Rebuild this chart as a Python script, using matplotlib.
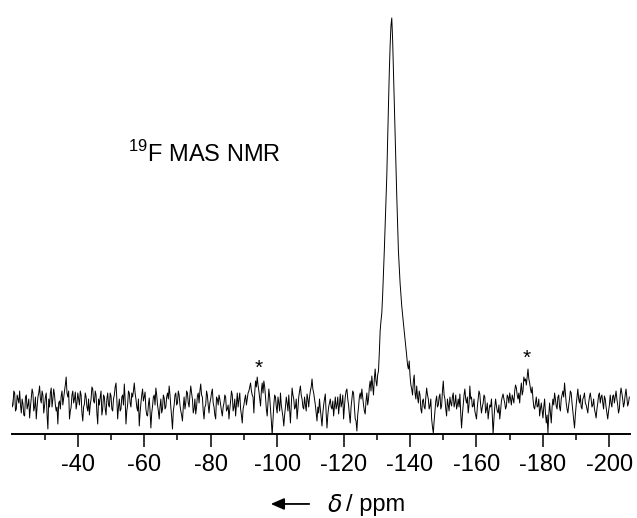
import numpy as np
import matplotlib
matplotlib.use("Agg")
import matplotlib.pyplot as plt
from matplotlib.ticker import FixedLocator

plt.rcParams['font.family'] = ['Liberation Sans', 'DejaVu Sans']
plt.rcParams['axes.unicode_minus'] = False
plt.rcParams['mathtext.fontset'] = 'custom'
plt.rcParams['mathtext.rm'] = 'Liberation Sans'

# Chemical shift grid (ppm): main points every 0.5 ppm, mid points halfway
shift_start = -20.0
shift_step = -0.5

# Spectrum intensity (arbitrary units), main points
intensity_a = [5, -4, 8, -8, 2, 10, -12, -3, -15, 6, -4, -17, 3, 8, -6, -18, 4, 15, -2, 6,
               -5, 8, -28, -6, 13, 2, 6, -10, -23, 0, 5, -4, 10, 24, 4, -18, -6, 10, 2, -8,
               8, -4, 6, -20, -3, 4, -10, -14, 2, 12, -2, 6, -23, -4, 10, -8, 4, -14, 8, -6,
               5, -10]
intensity_b = [6, 18, -18, 2, -8, 6, 17, -23, -4, 8, -6, 4, 18, 2, -10, -25, -2, 12, 4, -8,
               -15, 3, -27, -5, 6, 13, -4, -18, 2, -8, 3, -6, 8, 15, -6, -28, -4, 8, -2, 6,
               -10, -20, 4, -2, 8, -6, 15, 2, -8, -13, 5, -2, 17, 4, -18, -4, 6, -12, 2, 12,
               -6, -18]
intensity_c = [2, 6, -4, -15, -2, 4, -8, -18, 0, 6, -6, -15, 8, 2, -8, -22, -4, 6, 2, 10,
               18, 6, -12, 20, 24, 10, -5, 18, 20, 4, -15, 12, -8, -34, -4, 4, -12, -2, 8, -10,
               -25, -6, -2, 6, -22, 13, 2, -6, -18, 4, 15, 2, -8, -4, 7, -6, 10, 22, 8, -4,
               -20, -12]
intensity_d = [-8, -25, -4, 7, -27, -6, 2, -8, -15, 4, -4, -13, 7, -2, -18, 4, 12, -4, -22, 2,
               8, -18, -30, -6, 8, 12, -4, -13, 8, 2, 20, 25, 6, 32, 15, 30, 70, 88, 128, 175,
               225, 295, 355, 383, 330, 262, 205, 150, 118, 95, 78, 62, 45, 32, 25, 12, 20, 8,
               15, -2, 6, -12]
intensity_e = [2, -8, 13, 2, -5, -18, -32, -10, 5, -4, 7, -5, 20, 2, -15, -4, 4, -5, 8, -2,
               -8, 2, 7, -27, -4, 12, -2, -12, 15, 4, -5, -10, -18, 2, 7, -12, -2, 4, -8, -18,
               -4, 2, -33, -6, -5, -12, -18, 0, 7, -2, -5, 4, 8, -4, 2, 10, 13, 2, -2, 18,
               10, 20]
intensity_f = [16, 32, 18, 8, 2, -8, 4, -5, -15, -2, -17, 2, -22, -32, -2, -22, 2, 8, -5, 4,
               -6, 2, 10, 18, -2, -12, 2, 8, -10, -27, -4, 12, -2, -6, 2, 8, -4, -12, 4, 2,
               -4, -8, -17, -2, 8, 4, -2, 5, -6, -18, -4, -2, 5, -2, 10, -4, -8, 13, 2, -2,
               12, -5, 4]

# Intensity at the half-step points (between consecutive main points)
mid_a = [-6, 10, -10, 6, -2, -4, 2, -14, 4, -8, 2, -6, 12, -10, 4, -6, 8, 2, 10, -12,
         4, -14, 2, 8, -6, 12, -4, -6, -2, -8, 10, 3, 16, 8, 10, -10, 6, -2, 9, -2,
         2, 10, -12, -6, 8, -6, 2, -4, 14, 0, 10, -12, 2, 4, -14, 6, -8, 2, -4, 8,
         -8, 2]
mid_b = [14, 2, -6, -10, 4, -4, 2, -10, 10, -2, 8, 10, 8, -6, 2, -12, 6, 0, 9, -14,
         -4, -10, -12, 4, -4, 6, -10, -6, -12, 6, -8, 4, 2, 6, -16, -10, 6, -4, 10, -4,
         -14, -6, -8, 10, -2, 6, 8, -12, 2, -6, 8, 10, 6, -10, -6, 10, -4, -2, 8, -2,
         -14, 4]
mid_c = [-4, 2, -10, -6, 6, -10, -4, -8, 10, -10, 2, -4, -6, 8, -14, -8, 2, -4, 8, 14,
         10, 4, 8, 14, 16, 2, 10, 8, 14, -8, -2, 4, -20, -18, 6, -6, 4, -10, -4, -16,
         -14, 4, -10, -8, -4, 6, -8, 2, -8, 10, 6, -6, 4, -10, 2, 4, 14, 12, 2, -12,
         -6, 2]
mid_d = [-16, -12, 2, -12, -14, -2, -6, 0, -6, -8, 4, -4, -6, 6, -6, 10, 2, -14, -6, 10,
         -6, -20, -14, 4, 2, 4, -10, 0, -4, 14, 10, 16, 22, 20, 26, 48, 80, 106, 150, 200,
         262, 328, 375, 362, 296, 232, 176, 133, 106, 86, 70, 54, 36, 40, 16, 6, 26, 2, 4, 10,
         -8, 0]
mid_e = [-6, 4, 6, -8, 2, -26, -20, 0, -6, 4, -8, 10, 6, -8, 2, -10, -2, 4, -6, 6,
         -4, -6, -12, -14, 6, 2, 4, -4, 2, -6, 2, -14, -6, 10, -4, -6, 6, -12, -2, -10,
         -6, -14, -18, 2, -10, -4, -10, 4, 2, -8, 6, -2, 2, 6, -2, 16, 6, 8, 10, 6,
         24, 22]
mid_f = [24, 22, 12, 14, -6, -2, -6, 2, -8, -10, -6, -12, -14, -14, -12, -6, -4, 2, -8, 6,
         -10, 6, 4, 8, -8, -4, 10, -2, -18, -14, 4, 2, 6, -8, 4, -2, -8, -2, 8, -6,
         2, -12, -8, 6, -2, 6, -8, 2, -12, -10, 6, -6, 6, 4, 2, -12, 6, 8, -6, 6,
         4, -2]

main_segments = [intensity_a, intensity_b, intensity_c, intensity_d, intensity_e, intensity_f]
mid_segments = [mid_a, mid_b, mid_c, mid_d, mid_e, mid_f]

xs, ys = [], []
offset = 0
for main, mid in zip(main_segments, mid_segments):
    main_shift = shift_start + shift_step * (offset + np.arange(len(main)))
    xs.append(main_shift)
    ys.append(np.asarray(main, float))
    n = min(len(mid), len(main))
    xs.append(main_shift[:n] + shift_step / 2)
    ys.append(np.asarray(mid[:n], float))
    offset += len(main)
shift = np.concatenate(xs)
intensity = np.concatenate(ys)
order = np.argsort(-shift)
shift, intensity = shift[order], intensity[order]

# Spinning sidebands positions (ppm) and marker heights
sideband_ppm = [-94.4, -175.1]
sideband_mark_y = [33, 43]

major_ticks = [-40, -60, -80, -100, -120, -140, -160, -180, -200]
minor_ticks = [-30, -50, -70, -90, -110, -130, -150, -170, -190]

W, H = 637, 518
fig = plt.figure(figsize=(W / 100, H / 100), dpi=100)
ax = fig.add_axes([12 / W, (H - 433.5) / H, 618 / W, 423.5 / H])

ax.plot(shift, intensity, color='black', lw=0.7)
ax.set_xlim(-20.2, -206.2)
ax.set_ylim(-32.5, 391)

for s in ['left', 'right', 'top']:
    ax.spines[s].set_visible(False)
ax.spines['bottom'].set_linewidth(1.4)
ax.set_yticks([])
ax.xaxis.set_major_locator(FixedLocator(major_ticks))
ax.xaxis.set_minor_locator(FixedLocator(minor_ticks))
ax.tick_params(axis='x', which='major', direction='out', length=9, width=1.1,
               labelsize=17, pad=6)
ax.tick_params(axis='x', which='minor', direction='out', length=4.5, width=1.1)
ax.set_xticklabels([str(t) for t in major_ticks])

for xp, yp in zip(sideband_ppm, sideband_mark_y):
    ax.text(xp, yp, '*', ha='center', va='center', fontsize=15)

fig.text(128 / W, (H - 162) / H, r'$^{19}$F MAS NMR', fontsize=17, ha='left', va='baseline')

# x-axis label with arrow
ylab = (H - 505) / H
fig.patches.append(matplotlib.patches.FancyArrowPatch(
    (312 / W, ylab + 0.002), (268 / W, ylab + 0.002), transform=fig.transFigure,
    arrowstyle='-|>,head_length=8,head_width=3.5', color='black', lw=1.3, mutation_scale=1))
fig.text(327 / W, ylab, r'$\delta$', fontsize=17, ha='left', va='center',
         family='DejaVu Serif', style='italic')
fig.text(346 / W, ylab, '/ ppm', fontsize=17, ha='left', va='center')

fig.savefig('out.png', dpi=100)
